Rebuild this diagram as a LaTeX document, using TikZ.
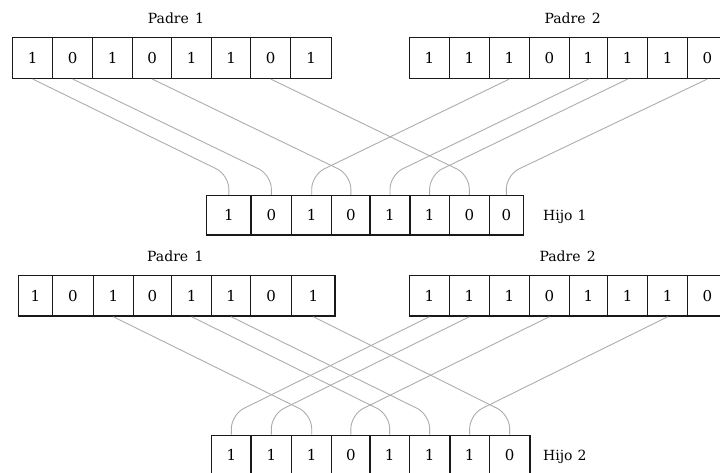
\documentclass[tikz,border=0pt]{standalone}
\usepackage{fontspec}
\setmainfont{DejaVu Serif}
\usetikzlibrary{calc}

\tikzset{
  cell/.style={draw=black!90, line width=1.5pt, inner sep=0pt,
    font=\fontsize{15}{17}\selectfont},
  link/.style={draw=black!32, line width=0.9pt, rounded corners=14pt},
  lbl/.style={inner sep=0pt, font=\fontsize{14}{16}\selectfont},
}

% One chromosome: #1 name prefix, #2 top, #3 bottom, #4 list left/right/bit
\newcommand{\bitrow}[4]{%
  \foreach \l/\r/\v [count=\i] in {#4} {
    \node[cell, minimum width={(\r-\l)*1pt}, minimum height={(#3-#2)*1pt}]
      (#1\i) at ({(\l+\r)/2},{(#2+#3)/2}) {\v};
  }%
}

% Gene copied from a parent cell into a child cell
\newcommand{\genelink}[2]{%
  \draw[link] (#1.south) -- ($(#2.north)+(0,-20)$) -- (#2.north);
}

\begin{document}
\begin{tikzpicture}[x=1pt, y=-1pt]
  \clip (0,0) rectangle (720,473);
  \fill[white] (0,0) rectangle (720,473);

  % ---- first crossover: Hijo 1 ----
  \node[lbl, anchor=base] (tpa) at (176,23.5) {Padre\hspace{0.45em}1};
  \node[lbl, anchor=base] (tpb) at (572.7,23.5) {Padre\hspace{0.45em}2};

  \bitrow{pa}{37.7}{78.3}{12.7/52.7/1, 52.7/92.7/0, 92.7/132.7/1,
    132.7/171.7/0, 171.7/211.7/1, 211.7/250.7/1, 250.7/290.7/0, 290.7/331.7/1}
  \bitrow{pb}{37.7}{78.3}{409.3/449.3/1, 449.3/489.3/1, 489.3/529.3/1,
    529.3/569.3/0, 569.3/607.7/1, 607.7/647.7/1, 647.7/687.7/1, 687.7/727/0}
  \bitrow{ha}{195.7}{235}{206.7/251/1, 251/291.7/0, 291.7/331.7/1,
    331.7/370/0, 370/410/1, 410/449.3/1, 449.3/489.3/0, 489.3/523.3/0}

  \node[lbl, anchor=base west] (tha) at (543,220.5) {Hijo\hspace{0.35em}1};

  \genelink{pa1}{ha1}
  \genelink{pa2}{ha2}
  \genelink{pb3}{ha3}
  \genelink{pa4}{ha4}
  \genelink{pb5}{ha5}
  \genelink{pb6}{ha6}
  \genelink{pa7}{ha7}
  \genelink{pb8}{ha8}

  % ---- second crossover: Hijo 2 ----
  \node[lbl, anchor=base] (tqa) at (175.3,261) {Padre\hspace{0.45em}1};
  \node[lbl, anchor=base] (tqb) at (567.7,261) {Padre\hspace{0.45em}2};

  \bitrow{qa}{275.7}{316}{18.3/52.7/1, 52.7/93.3/0, 93.3/133.3/1,
    133.3/171.7/0, 171.7/211.7/1, 211.7/250.7/1, 250.7/291.7/0, 291.7/335/1}
  \bitrow{qb}{275.7}{316}{409.3/449.3/1, 449.3/489.3/1, 489.3/529.3/1,
    529.3/569.3/0, 569.3/607.7/1, 607.7/647.7/1, 647.7/687.7/1, 687.7/727/0}
  \bitrow{hb}{435.3}{475.5}{211.7/251/1, 251/291.7/1, 291.7/331.7/1,
    331.7/370/0, 370/409.3/1, 409.3/450/1, 450/489.3/1, 489.3/530/0}

  \node[lbl, anchor=base west] (thb) at (543,460) {Hijo\hspace{0.35em}2};

  \genelink{qb1}{hb1}
  \genelink{qb2}{hb2}
  \genelink{qa3}{hb3}
  \genelink{qb4}{hb4}
  \genelink{qa5}{hb5}
  \genelink{qa6}{hb6}
  \genelink{qb7}{hb7}
  \genelink{qa8}{hb8}
\end{tikzpicture}
\end{document}
